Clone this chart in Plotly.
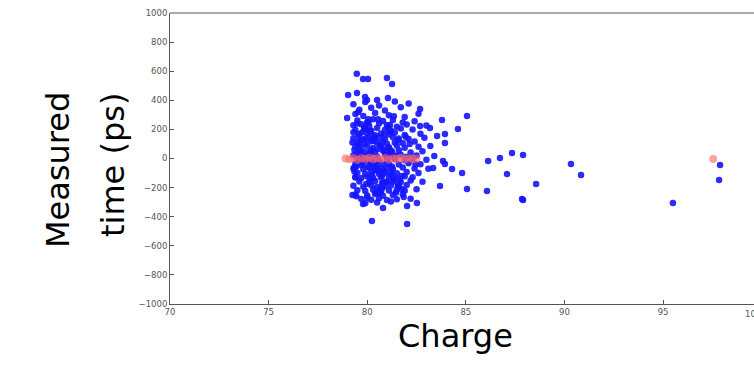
import plotly.graph_objects as go

# ---- data ----
blue_charge = [
    # sparse upper points
    79.47, 79.79, 80.04, 81.0, 81.26, 79.03, 79.48, 79.89, 79.99, 80.5, 81.05,
    82.68, 85.06, 78.98, 83.79, 82.68, 83.18, 84.6, 83.94, 83.54, 83.94,
    # sparse right / lower points
    86.13, 86.73, 87.34, 87.9, 87.09, 85.06, 86.07, 87.85, 84.81, 84.3, 83.84,
    83.94, 83.34, 83.69, 80.24, 82.02, 82.52, 82.02, 80.8, 79.79,
    88.56, 87.9, 90.33, 90.84, 95.5, 97.89, 97.84,
    # dense cluster
    79.3, 79.9, 80.6, 81.4, 82.1,
    79.6, 80.2, 80.9, 81.7,
    79.4, 79.8, 80.4, 81.1, 81.9, 82.6,
    79.5, 80.0, 80.3, 80.8, 81.3, 81.8, 82.4,
    79.3, 79.7, 80.1, 80.6, 81.0, 81.5, 82.0, 83.0,
    79.4, 79.9, 80.2, 80.5, 80.9, 81.2, 81.7, 82.3,
    79.6, 80.0, 80.4, 80.7, 81.1, 81.4, 81.9, 82.7,
    79.3, 79.8, 80.1, 80.3, 80.6, 80.9, 81.3, 81.6, 82.1, 82.9,
    79.5, 79.9, 80.2, 80.5, 80.8, 81.0, 81.4, 81.8, 82.4,
    79.4, 79.7, 80.0, 80.3, 80.7, 81.1, 81.5, 81.9, 82.6, 83.2,
    79.6, 79.9, 80.2, 80.4, 80.8, 81.2, 81.6, 82.2, 82.8,
    79.3, 79.8, 80.1, 80.5, 80.9, 81.3, 81.7, 82.0, 82.5, 83.4,
    79.5, 80.0, 80.3, 80.6, 81.0, 81.4, 81.9, 82.3, 83.0,
    79.4, 79.7, 80.2, 80.5, 80.8, 81.1, 81.6, 82.1, 82.7,
    79.3, 79.8, 80.1, 80.4, 80.7, 81.0, 81.3, 81.8, 82.4, 83.1,
    79.5, 79.9, 80.2, 80.6, 80.9, 81.2, 81.5, 82.0, 82.6,
    79.4, 79.7, 80.0, 80.3, 80.7, 81.1, 81.4, 81.9, 82.3,
    79.6, 80.1, 80.4, 80.8, 81.0, 81.3, 81.7, 82.2, 82.8,
    79.3, 79.8, 80.2, 80.5, 80.9, 81.2, 81.6, 82.0,
    79.5, 79.9, 80.3, 80.7, 81.1, 81.5, 81.9, 82.5,
    79.4, 80.0, 80.4, 80.8, 81.3, 81.8,
    79.7, 80.2, 80.6, 81.0, 81.5, 82.2,
    79.9, 80.5, 81.2,
    # extra fill inside the cluster core
    79.6, 80.0, 80.35, 80.75, 81.15, 81.55, 80.15, 80.55, 80.95, 81.35,
    79.75, 80.25, 80.65, 81.05, 81.45, 79.85, 80.45, 80.85, 81.25, 80.05,
    79.45, 79.65, 79.95, 80.15, 80.45, 80.65, 80.85, 81.15, 81.35, 81.65,
    79.55, 79.75, 80.05, 80.25, 80.55, 80.75, 81.05, 81.25, 81.55, 81.85,
    79.35, 79.65, 79.85, 80.35, 80.55, 80.95, 81.45, 81.75, 82.15, 82.45,
    79.45, 79.75, 80.15, 80.45, 80.85, 81.15, 81.55, 81.95, 79.55, 80.05,
    80.35, 80.65, 81.05, 81.35, 81.75, 79.65, 79.95, 80.25, 80.75, 81.25,
    79.25, 79.35, 79.45, 79.3, 79.4, 79.25, 79.35, 79.5, 80.0, 80.6,
]
blue_time = [
    583, 546, 546, 553, 512, 436, 450, 423, 402, 402, 416,
    340, 292, 278, 265, 223, 210, 203, 168, 155, 107,
    -17, 3, 38, 24, -107, -210, -223, -278, -100, -72, -17,
    -38, -65, -189, -430, -450, -306, -326, -340, -313,
    -175, -285, -38, -113, -306, -45, -148,
    372, 388, 365, 392, 378,
    335, 348, 330, 352,
    305, 292, 312, 298, 285, 308,
    262, 250, 270, 258, 265, 248, 256,
    228, 236, 222, 240, 230, 218, 234, 226,
    196, 205, 190, 210, 198, 192, 207, 200,
    168, 175, 160, 172, 165, 178, 162, 170,
    140, 132, 148, 136, 144, 130, 146, 138, 134, 142,
    112, 104, 118, 108, 115, 102, 110, 106, 116,
    82, 76, 88, 72, 84, 78, 90, 74, 80, 86,
    52, 46, 58, 44, 54, 48, 56, 42, 50,
    22, 16, 28, 14, 24, 18, 26, 12, 20, 18,
    -8, -14, -4, -16, -10, -6, -12, -2, -9,
    -38, -44, -34, -46, -40, -36, -42, -32, -39,
    -68, -74, -64, -76, -70, -66, -72, -62, -69, -71,
    -98, -104, -94, -106, -100, -96, -102, -92, -99,
    -128, -134, -124, -136, -130, -126, -132, -122, -129,
    -158, -164, -154, -166, -160, -156, -162, -152, -159,
    -188, -194, -184, -196, -190, -186, -192, -182,
    -218, -224, -214, -226, -220, -216, -222, -212,
    -248, -254, -244, -256, -250, -246,
    -278, -284, -274, -286, -280, -276,
    -308, -302, -296,
    95, -55, 150, -120, 60, -175, 185, -85, 25, -145,
    -25, 125, -205, 70, -235, 215, -60, 160, -115, 245,
    -55, 125, -175, 35, -235, 95, -85, 185, 5, -140,
    155, -25, 245, -115, 65, -205, 215, -55, 125, -265,
    -90, 40, 200, -30, 270, -160, 20, -210, 100, -40,
    -260, 180, -140, -80, 60, 230, -190, 150, 320, 270,
    120, -230, 10, 290, -120, 0, 140, -50, -170, 50,
    110, -60, 30, 180, -130, -250, 60, 240, -270, -240,
]

red_charge = [78.9, 79.1, 79.3, 79.5, 79.7, 79.9, 80.1, 80.3, 80.5, 80.7,
              80.9, 81.1, 81.3, 81.5, 81.7, 81.9, 82.1, 82.3, 82.5, 97.54]
red_time = [0, -5, 3, -8, 2, -4, 5, -6, 1, -3,
            4, -7, 0, -2, 3, -5, 1, -4, -1, -3]

x_ticks = [70, 75, 80, 85, 90, 95]
y_ticks = [-1000, -800, -600, -400, -200, 0, 200, 400, 600, 800, 1000]

fig = go.Figure()
fig.add_trace(go.Scatter(
    x=blue_charge, y=blue_time, mode="markers",
    marker=dict(color="rgb(20,20,255)", size=6.5, symbol="circle", opacity=0.9,
                line=dict(width=0)),
    showlegend=False, hoverinfo="skip"))
fig.add_trace(go.Scatter(
    x=red_charge, y=red_time, mode="markers",
    marker=dict(color="rgba(255,100,100,0.6)", size=8, line=dict(width=0)),
    showlegend=False, hoverinfo="skip"))

tick_font = dict(family="DejaVu Sans", size=8.5, color="#555")
axis_common = dict(
    showgrid=False, zeroline=False, showline=True, linecolor="#555", linewidth=1,
    ticks="inside", ticklen=4, tickcolor="#555", tickfont=tick_font,
)
fig.update_xaxes(range=[70, 99.61], tickvals=x_ticks, **axis_common)
fig.update_yaxes(range=[-1000, 1000], tickvals=y_ticks, **axis_common)

fig.add_shape(type="line", xref="paper", yref="paper", x0=0, x1=1, y0=1, y1=1,
              line=dict(color="#555", width=1))

# "100" tick label, clipped at the right edge of the picture as in the reference
fig.add_annotation(x=1, y=0, xref="paper", yref="paper", text="100", showarrow=False,
                   xanchor="center", yanchor="top", yshift=-3, xshift=-1, font=tick_font)

title_font = dict(family="DejaVu Sans", size=32, color="black")
L, T, B, W, H = 170, 13, 84, 754, 388
pw, ph = W - L, H - T - B


def px_to_paper(px, py):
    return (px - L) / pw, (H - B - py) / ph


for text, px, py, ang in [("Measured", 37, 170, -90), ("time (ps)", 92, 165, -90),
                          ("Charge", 455, 357, 0)]:
    xp, yp = px_to_paper(px, py)
    fig.add_annotation(x=xp, y=yp, xref="paper", yref="paper", text=text,
                       showarrow=False, textangle=ang, font=title_font)

fig.update_layout(
    width=W, height=H,
    margin=dict(l=L, r=0, t=T, b=B),
    plot_bgcolor="white", paper_bgcolor="white",
)
fig.write_html("out.html")
